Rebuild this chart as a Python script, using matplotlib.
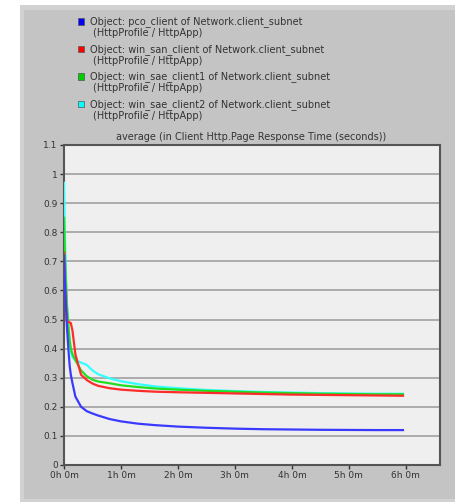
import matplotlib
matplotlib.use("Agg")
import matplotlib.pyplot as plt
from matplotlib.patches import Rectangle

# ---------------- data ----------------
hours = [0, 0.02, 0.05, 0.08, 0.1, 0.12, 0.15, 0.2, 0.3, 0.4, 0.5, 0.6, 0.8, 1.0,
         1.3, 1.6, 2.0, 2.5, 3.0, 3.5, 4.0, 4.5, 5.0, 5.5, 5.95]
blue_vals = [0.72, 0.60, 0.48, 0.39, 0.34, 0.31, 0.28, 0.235, 0.20, 0.185, 0.177, 0.17,
             0.158, 0.15, 0.142, 0.137, 0.132, 0.128, 0.125, 0.123, 0.122, 0.121,
             0.1205, 0.120, 0.120]
red_vals = [0.73, 0.62, 0.495, 0.492, 0.49, 0.488, 0.46, 0.38, 0.31, 0.292, 0.28, 0.272,
            0.264, 0.259, 0.255, 0.252, 0.250, 0.248, 0.246, 0.244, 0.242, 0.241,
            0.240, 0.239, 0.238]
green_vals = [0.85, 0.70, 0.55, 0.47, 0.43, 0.40, 0.38, 0.36, 0.325, 0.305, 0.293, 0.287,
              0.281, 0.274, 0.268, 0.263, 0.259, 0.255, 0.252, 0.249, 0.247, 0.245,
              0.244, 0.243, 0.243]
cyan_vals = [0.97, 0.75, 0.56, 0.47, 0.42, 0.39, 0.37, 0.36, 0.352, 0.344, 0.325, 0.312,
             0.298, 0.288, 0.278, 0.27, 0.264, 0.258, 0.254, 0.251, 0.249, 0.247,
             0.246, 0.245, 0.245]
series_names = [
    "Object: pco_client of Network.client_subnet",
    "Object: win_san_client of Network.client_subnet",
    "Object: win_sae_client1 of Network.client_subnet",
    "Object: win_sae_client2 of Network.client_subnet",
]
series_sub = "(HttpProfile / HttpApp)"
title_text = "average (in Client Http.Page Response Time (seconds))"
x_ticks = [0, 1, 2, 3, 4, 5, 6]
x_tick_labels = ["0h 0m", "1h 0m", "2h 0m", "3h 0m", "4h 0m", "5h 0m", "6h 0m"]
y_ticks = [0, 0.1, 0.2, 0.3, 0.4, 0.5, 0.6, 0.7, 0.8, 0.9, 1.0, 1.1]
y_tick_labels = ["0", "0.1", "0.2", "0.3", "0.4", "0.5", "0.6", "0.7", "0.8", "0.9", "1", "1.1"]

colors = ["#3a3aff", "#ff2a2a", "#22dd22", "#33ffff"]
marker_colors = ["#0000ff", "#ff0000", "#00cc00", "#00ffff"]

W, H = 455, 503
fig = plt.figure(figsize=(W / 100, H / 100), dpi=100)
fig.patch.set_facecolor("white")

def fx(px):
    return px / W

def fy(py):
    return 1 - py / H

# gray panel
fig.patches.append(Rectangle((fx(20), fy(502)), fx(455) - fx(20), fy(5) - fy(502),
                             transform=fig.transFigure, facecolor="#d2d2d2",
                             edgecolor="none", zorder=-2))
fig.patches.append(Rectangle((fx(24), fy(499)), fx(455) - fx(24), fy(10) - fy(499),
                             transform=fig.transFigure, facecolor="#c4c4c4",
                             edgecolor="none", zorder=-1))

ax = fig.add_axes([fx(64), fy(465), fx(440) - fx(64), fy(145) - fy(465)])
ax.set_zorder(5)
ax.set_facecolor("#efefef")
ax.set_xlim(0, 6.6)
ax.set_ylim(0, 1.1)

ax.set_yticks(y_ticks)
ax.set_yticklabels(y_tick_labels)
ax.set_xticks(x_ticks)
ax.set_xticklabels(x_tick_labels)
ax.tick_params(axis="both", labelsize=6.5, colors="#333333", length=3, width=1,
               direction="out", pad=1.5)
ax.grid(axis="y", color="#a0a0a0", linewidth=1.2)
ax.set_axisbelow(True)
for s in ax.spines.values():
    s.set_color("#555555")
    s.set_linewidth(1.5)

vals = [blue_vals, red_vals, green_vals, cyan_vals]
for i in [3, 2, 1, 0]:
    ax.plot(hours, vals[i], color=colors[i], linewidth=1.6, zorder=3)

# legend
for i, name in enumerate(series_names):
    y0 = 21.5 + i * 27.6
    fig.patches.append(Rectangle((fx(77.5), fy(y0 + 3)), fx(6.5), fy(0) - fy(6.5),
                                 transform=fig.transFigure, facecolor=marker_colors[i],
                                 edgecolor="#555555", linewidth=0.5, zorder=2))
    fig.text(fx(90), fy(y0), name, fontsize=7, color="#333333", va="center", ha="left")
    fig.text(fx(93), fy(y0 + 11.5), series_sub, fontsize=7, color="#333333",
             va="center", ha="left")

fig.text(fx(251.5), fy(137), title_text, fontsize=7, color="#333333",
         ha="center", va="center")

fig.savefig("out.png", dpi=100)
